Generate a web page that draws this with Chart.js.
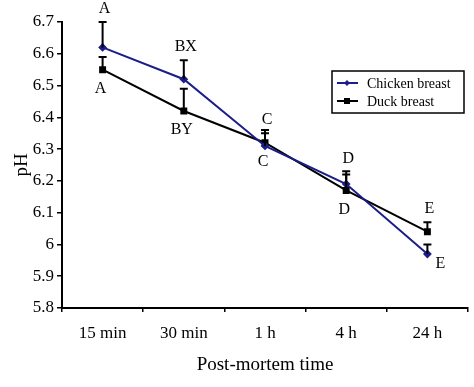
<!DOCTYPE html>
<html lang="en">
<head>
    <meta charset="UTF-8">
    <title>pH post-mortem</title>
    <script src="https://cdn.jsdelivr.net/npm/chart.js"></script>
    <style>
        body { margin: 0; background: #fff; }
        #wrap { width: 474px; height: 387px; }
    </style>
</head>
<body>
    <div id="wrap"><canvas id="chart" width="474" height="387"></canvas></div>

    <script>
        // Data
        const categories = ['15 min', '30 min', '1 h', '4 h', '24 h'];
        const chickenPH = [6.62, 6.52, 6.31, 6.19, 5.97];
        const duckPH = [6.55, 6.42, 6.32, 6.17, 6.04];
        const chickenErr = [0.08, 0.06, 0.04, 0.04, 0.03];
        const duckErr = [0.04, 0.07, 0.04, 0.05, 0.03];
        const chickenLetters = ['A', 'BX', 'C', 'D', 'E'];
        const duckLetters = ['A', 'BY', 'C', 'D', 'E'];

        const serif = "'Liberation Serif', 'DejaVu Serif', serif";
        const chickenColor = '#1c1c8a';

        // error bars (upper side only) and significance letters
        const annotate = {
            id: 'annotate',
            afterDatasetsDraw(chart) {
                const ctx = chart.ctx;
                const y = chart.scales.y;
                const sets = [
                    { meta: chart.getDatasetMeta(1), vals: duckPH, err: duckErr, letters: duckLetters, side: ['below', 'below', 'below', 'below', 'above'] },
                    { meta: chart.getDatasetMeta(0), vals: chickenPH, err: chickenErr, letters: chickenLetters, side: ['above', 'above', 'above', 'above', 'belowRight'] }
                ];
                ctx.save();
                sets.forEach(s => {
                    s.meta.data.forEach((pt, i) => {
                        const yTop = y.getPixelForValue(s.vals[i] + s.err[i]);
                        ctx.strokeStyle = '#000';
                        ctx.lineWidth = 2;
                        ctx.beginPath();
                        ctx.moveTo(pt.x, pt.y);
                        ctx.lineTo(pt.x, yTop);
                        ctx.moveTo(pt.x - 4, yTop);
                        ctx.lineTo(pt.x + 4, yTop);
                        ctx.stroke();

                        ctx.fillStyle = '#000';
                        ctx.font = '16px ' + serif;
                        ctx.textAlign = 'center';
                        ctx.textBaseline = 'middle';
                        const side = s.side[i];
                        if (side === 'above') {
                            ctx.fillText(s.letters[i], pt.x + 2, yTop - 13);
                        } else if (side === 'below') {
                            ctx.fillText(s.letters[i], pt.x - 2, pt.y + 19);
                        } else {
                            ctx.fillText(s.letters[i], pt.x + 13, pt.y + 10);
                        }
                    });
                });
                ctx.restore();
            },
            afterDraw(chart) {
                // framed legend
                const ctx = chart.ctx;
                const bx = 332, by = 71, bw = 132, bh = 42;
                ctx.save();
                ctx.strokeStyle = '#000';
                ctx.lineWidth = 1.5;
                ctx.strokeRect(bx, by, bw, bh);
                chart.data.datasets.forEach((ds, i) => {
                    const ry = by + 12 + i * 18;
                    ctx.strokeStyle = ds.borderColor;
                    ctx.lineWidth = 2;
                    ctx.beginPath();
                    ctx.moveTo(bx + 5, ry);
                    ctx.lineTo(bx + 26, ry);
                    ctx.stroke();
                    ctx.fillStyle = ds.borderColor;
                    if (ds.pointStyle === 'rect') {
                        ctx.fillRect(bx + 12, ry - 3, 6, 6);
                    } else {
                        ctx.beginPath();
                        ctx.moveTo(bx + 15, ry - 3);
                        ctx.lineTo(bx + 18, ry);
                        ctx.lineTo(bx + 15, ry + 3);
                        ctx.lineTo(bx + 12, ry);
                        ctx.closePath();
                        ctx.fill();
                    }
                    ctx.fillStyle = '#000';
                    ctx.font = '14px ' + serif;
                    ctx.textAlign = 'left';
                    ctx.textBaseline = 'middle';
                    ctx.fillText(ds.label, bx + 35, ry + 1);
                });
                ctx.restore();
            }
        };

        const ctx = document.getElementById('chart').getContext('2d');
        const chart = new Chart(ctx, {
            type: 'line',
            data: {
                labels: categories,
                datasets: [{
                    label: 'Chicken breast',
                    data: chickenPH,
                    borderColor: chickenColor,
                    backgroundColor: chickenColor,
                    borderWidth: 2,
                    pointStyle: 'rectRot',
                    pointRadius: 3,
                    tension: 0
                }, {
                    label: 'Duck breast',
                    data: duckPH,
                    borderColor: '#000',
                    backgroundColor: '#000',
                    borderWidth: 2,
                    pointStyle: 'rect',
                    pointRadius: 3.5,
                    tension: 0
                }]
            },
            options: {
                responsive: false,
                animation: false,
                layout: { padding: { top: 22, right: 4, left: 0, bottom: 0 } },
                plugins: {
                    legend: { display: false },
                    tooltip: { enabled: false }
                },
                scales: {
                    x: {
                        offset: true,
                        grid: {
                            offset: true,
                            drawOnChartArea: false,
                            tickLength: 4,
                            color: '#000',
                            lineWidth: 1.5
                        },
                        border: { color: '#000', width: 2 },
                        ticks: {
                            color: '#000',
                            padding: 11,
                            font: { family: serif, size: 17 }
                        },
                        title: {
                            display: true,
                            text: 'Post-mortem time',
                            color: '#000',
                            font: { family: serif, size: 19 },
                            padding: { top: 0, bottom: 11 }
                        },
                        afterFit(scale) { scale.height = 79; }
                    },
                    y: {
                        min: 5.8,
                        max: 6.7,
                        grid: {
                            drawOnChartArea: false,
                            tickLength: 5,
                            color: '#000',
                            lineWidth: 1.5
                        },
                        border: { color: '#000', width: 2 },
                        ticks: {
                            stepSize: 0.1,
                            color: '#000',
                            padding: 3,
                            font: { family: serif, size: 17 },
                            callback: v => String(Math.round(v * 10) / 10)
                        },
                        title: {
                            display: true,
                            text: 'pH',
                            color: '#000',
                            font: { family: serif, size: 19 },
                            padding: { top: 11, bottom: 0 }
                        },
                        afterFit(scale) { scale.width = 62; }
                    }
                }
            },
            plugins: [annotate]
        });
    </script>
</body>
</html>
